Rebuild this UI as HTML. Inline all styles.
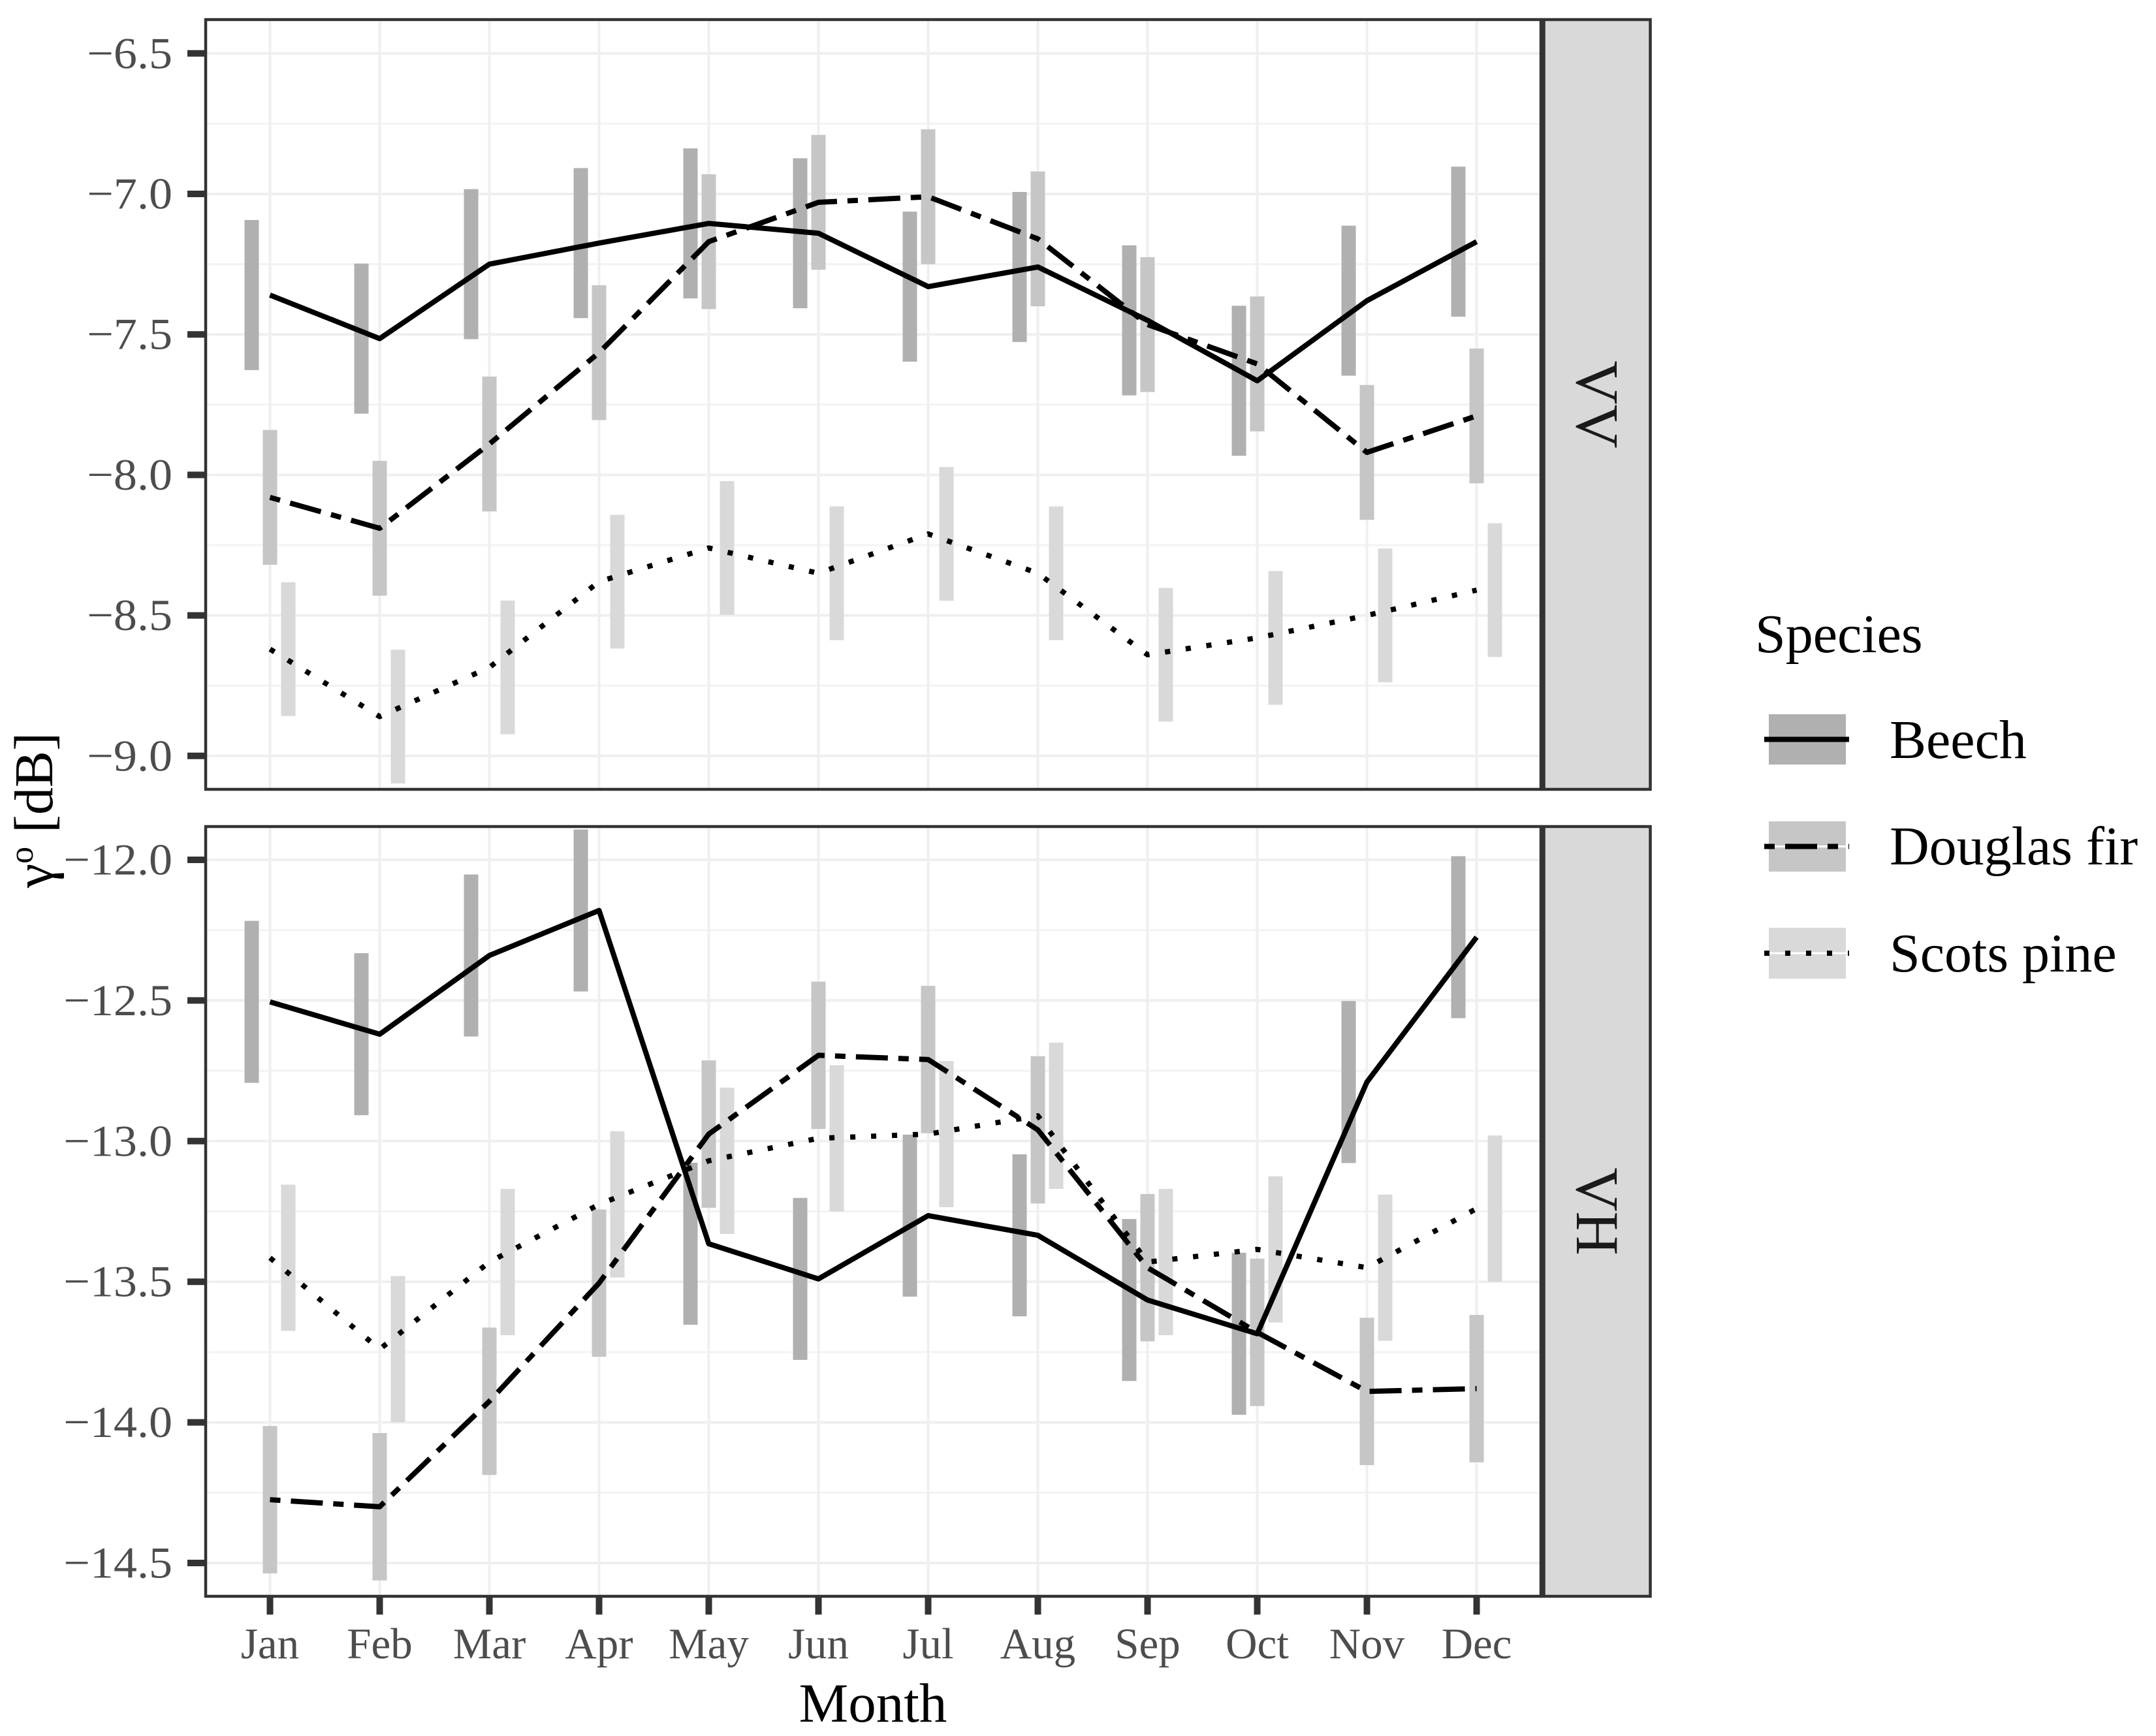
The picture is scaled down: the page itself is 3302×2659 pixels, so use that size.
<!DOCTYPE html>
<html lang="en">
<head>
<meta charset="utf-8">
<title>Backscatter by month and species</title>
<style>
html,body{margin:0;padding:0;background:#fff;}
svg{display:block;font-family:"Liberation Serif","DejaVu Serif",serif;}
</style>
</head>
<body>
<svg id="chart" xmlns="http://www.w3.org/2000/svg" width="3302" height="2659" viewBox="0 0 3302 2659">
  <rect x="0" y="0" width="3302" height="2659" fill="#ffffff"/>
  <defs>
    <clipPath id="clip-vv"><rect x="315" y="30" width="2045" height="1179"/></clipPath>
    <clipPath id="clip-vh"><rect x="315" y="1266" width="2045" height="1179"/></clipPath>
  </defs>
  <g id="layer-vv"></g>
  <g id="layer-vh"></g>

  <text x="1337" y="2637" font-size="85" text-anchor="middle" fill="#000">Month</text>
  <text transform="translate(80,1241) rotate(-90)" font-size="84" text-anchor="middle" fill="#000">γ<tspan font-size="52" dy="-30">o</tspan><tspan dy="30"> [dB]</tspan></text>

  <g>
    <text x="2688" y="999" font-size="84" fill="#000">Species</text>

    <rect x="2709" y="1094" width="118" height="77" fill="#b0b0b0"/>
    <line x1="2702" y1="1132.5" x2="2832" y2="1132.5" stroke="#000" stroke-width="8"/>
    <text x="2894" y="1161" font-size="84" fill="#000">Beech</text>

    <rect x="2709" y="1258" width="118" height="77" fill="#c6c6c6"/>
    <line x1="2702" y1="1296.5" x2="2832" y2="1296.5" stroke="#fff" stroke-width="3"/>
    <line x1="2702" y1="1296.5" x2="2832" y2="1296.5" stroke="#000" stroke-width="8" stroke-dasharray="16 16 49 16"/>
    <text x="2894" y="1324" font-size="84" fill="#000">Douglas fir</text>

    <rect x="2709" y="1421" width="118" height="78" fill="#d9d9d9"/>
    <line x1="2702" y1="1460" x2="2832" y2="1460" stroke="#fff" stroke-width="3"/>
    <line x1="2702" y1="1460" x2="2832" y2="1460" stroke="#000" stroke-width="8" stroke-dasharray="8 24"/>
    <text x="2894" y="1488" font-size="84" fill="#000">Scots pine</text>
  </g>
</svg>

<script>
const months = ['Jan','Feb','Mar','Apr','May','Jun','Jul','Aug','Sep','Oct','Nov','Dec'];

const tickLabelsVV = [-6.5,-7.0,-7.5,-8.0,-8.5,-9.0];
const tickLabelsVH = [-12.0,-12.5,-13.0,-13.5,-14.0,-14.5];

const beechVV = [-7.36,-7.515,-7.25,-7.175,-7.105,-7.14,-7.33,-7.26,-7.45,-7.665,-7.38,-7.17];
const firVV   = [-8.08,-8.19,-7.89,-7.565,-7.17,-7.03,-7.01,-7.16,-7.465,-7.605,-7.92,-7.79];
const pineVV  = [-8.62,-8.86,-8.685,-8.38,-8.26,-8.35,-8.21,-8.35,-8.64,-8.58,-8.50,-8.41];

const beechVH = [-12.505,-12.62,-12.34,-12.18,-13.365,-13.49,-13.265,-13.335,-13.565,-13.685,-12.79,-12.275];
const firVH   = [-14.275,-14.30,-13.925,-13.505,-12.975,-12.695,-12.71,-12.96,-13.45,-13.68,-13.89,-13.88];
const pineVH  = [-13.415,-13.74,-13.43,-13.225,-13.07,-12.99,-12.975,-12.91,-13.43,-13.385,-13.45,-13.24];

const beechSpreadVV = 0.267;
const firSpreadVV   = 0.24;
const pineSpreadVV  = 0.238;
const beechSpreadVH = 0.288;
const firSpreadVH   = 0.262;
const pineSpreadVH  = 0.26;

const NS = 'http://www.w3.org/2000/svg';
const xScale = (i) => 413.5 + i * 168;
const yVV = (v) => 297 + (-7 - v) * 430.4;
const yVH = (v) => 1317 + (-12 - v) * 430.8;

function mk(tag, attrs, parent) {
  const el = document.createElementNS(NS, tag);
  for (const k in attrs) el.setAttribute(k, attrs[k]);
  parent.appendChild(el);
  return el;
}

function drawPanel(cfg) {
  const root = document.getElementById(cfg.layer);
  const top = cfg.top, bottom = cfg.bottom, left = 315, right = 2360;

  const panelBg = mk('rect', {x:left, y:top, width:right-left, height:bottom-top, fill:'#fff'}, root);
  
  

  const grid = mk('g', {}, root);
  
  

  // minor horizontal gridlines, halfway between majors and beyond the ends
  const step = cfg.ticks[0] - cfg.ticks[1];
  const minorVals = [];
  for (let k = -1; k < cfg.ticks.length; k++) {
    minorVals.push(cfg.ticks[0] - step * k - step / 2);
  }
  minorVals.forEach((v) => {
    const y = cfg.y(v);
    if (y <= top || y >= bottom) return;
    const g = mk('line', {x1:left, x2:right, y1:y, y2:y, stroke:'#f3f3f3', 'stroke-width':3}, grid);
    
    
  });
  cfg.ticks.forEach((v) => {
    const y = cfg.y(v);
    const g = mk('line', {x1:left, x2:right, y1:y, y2:y, stroke:'#efefef', 'stroke-width':4}, grid);
    
    
  });
  months.forEach((m, i) => {
    const x = xScale(i);
    const g = mk('line', {x1:x, x2:x, y1:top, y2:bottom, stroke:'#efefef', 'stroke-width':4}, grid);
    
    
  });

  const marks = mk('g', {'clip-path':'url(#' + cfg.clip + ')'}, root);
  
  

  cfg.series.forEach((s) => {
    s.values.forEach((v, i) => {
      const yTop = cfg.y(v + s.spread);
      const yBot = cfg.y(v - s.spread);
      const bar = mk('rect', {x:xScale(i) + s.offset - 11, y:yTop, width:22, height:yBot - yTop, fill:s.fill}, marks);
      
      
    });
  });

  cfg.series.forEach((s) => {
    const pts = s.values.map((v, i) => xScale(i) + ',' + cfg.y(v)).join(' ');
    const attrs = {points:pts, fill:'none', stroke:'#000', 'stroke-width':8, 'stroke-linejoin':'round'};
    if (s.dash) attrs['stroke-dasharray'] = s.dash;
    const line = mk('polyline', attrs, marks);
    
    
  });

  // y ticks and labels
  cfg.ticks.forEach((v) => {
    const y = cfg.y(v);
    const t = mk('line', {x1:287, x2:left, y1:y, y2:y, stroke:'#333', 'stroke-width':10}, root);
    
    
    const lab = mk('text', {transform:'translate(264,' + (y + 22.5) + ') scale(1.06,1)', 'font-size':68, 'text-anchor':'end', fill:'#4d4d4d'}, root);
    lab.textContent = '\u2212' + Math.abs(v).toFixed(1);
    
    
  });

  // panel border
  const border = mk('rect', {x:left, y:top, width:right-left, height:bottom-top, fill:'none', stroke:'#333', 'stroke-width':4.5}, root);
  
  

  // strip
  const strip = mk('rect', {x:2362.5, y:top, width:165, height:bottom-top, fill:'#d9d9d9', stroke:'#333', 'stroke-width':4.5}, root);
  
  
  const div = mk('line', {x1:2362.5, x2:2362.5, y1:top - 2, y2:bottom + 2, stroke:'#333', 'stroke-width':8.5}, root);
  
  
  const stripText = mk('text', {transform:'translate(2415,' + ((top + bottom) / 2 + 0) + ') rotate(90)', 'font-size':93, 'text-anchor':'middle', fill:'#1a1a1a'}, root);
  stripText.textContent = cfg.label;
  
  
}

drawPanel({
  id:'vv', layer:'layer-vv', clip:'clip-vv', label:'VV', top:30, bottom:1209, y:yVV, ticks:tickLabelsVV,
  series:[
    {name:'beech', values:beechVV, spread:beechSpreadVV, offset:-28, fill:'#b0b0b0', dash:null},
    {name:'douglas-fir', values:firVV, spread:firSpreadVV, offset:0, fill:'#c6c6c6', dash:'16 16 49 16'},
    {name:'scots-pine', values:pineVV, spread:pineSpreadVV, offset:28, fill:'#d9d9d9', dash:'8 24'}
  ]
});
drawPanel({
  id:'vh', layer:'layer-vh', clip:'clip-vh', label:'VH', top:1266, bottom:2445, y:yVH, ticks:tickLabelsVH,
  series:[
    {name:'beech', values:beechVH, spread:beechSpreadVH, offset:-28, fill:'#b0b0b0', dash:null},
    {name:'douglas-fir', values:firVH, spread:firSpreadVH, offset:0, fill:'#c6c6c6', dash:'16 16 49 16'},
    {name:'scots-pine', values:pineVH, spread:pineSpreadVH, offset:28, fill:'#d9d9d9', dash:'8 24'}
  ]
});

// x axis (bottom panel only)
const xLayer = document.getElementById('layer-vh');
months.forEach((m, i) => {
  const x = xScale(i);
  const t = mk('line', {x1:x, x2:x, y1:2445, y2:2473, stroke:'#333', 'stroke-width':10}, xLayer);
  
  
  const lab = mk('text', {x:x, y:2540, 'font-size':67, 'text-anchor':'middle', fill:'#4d4d4d'}, xLayer);
  lab.textContent = m;
  
  
});
</script>
</body>
</html>
